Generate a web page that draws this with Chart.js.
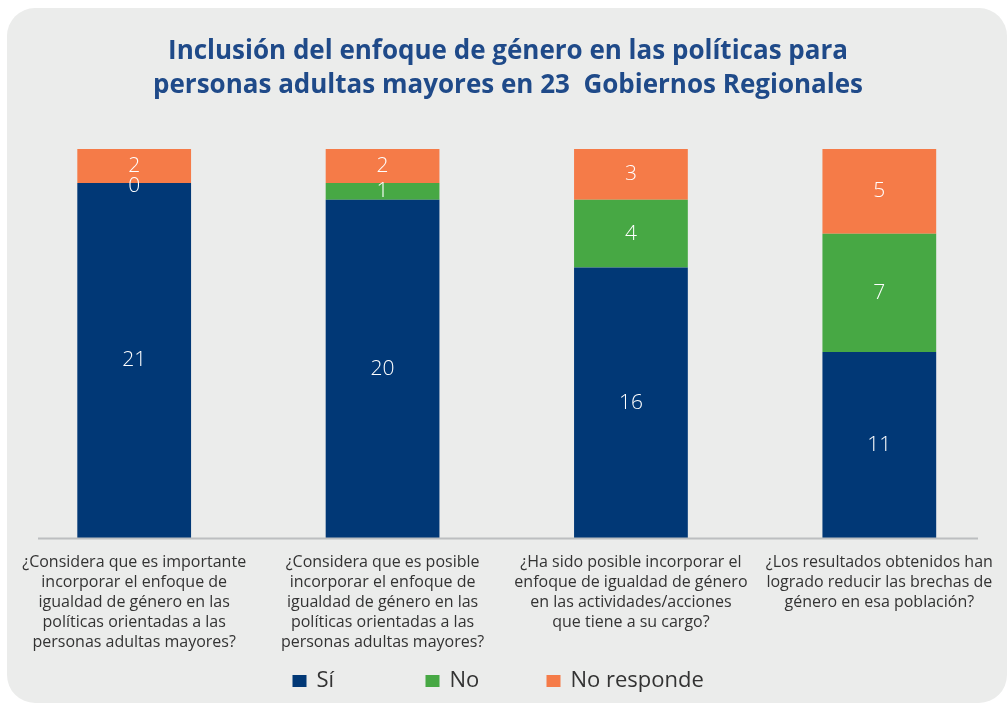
<!DOCTYPE html>
<html>
<head>
<meta charset="utf-8">
<script src="https://cdn.jsdelivr.net/npm/chart.js@4.4.0/dist/chart.umd.min.js"></script>
<style>
  html, body { margin: 0; padding: 0; background: #ffffff; }
  #wrap { width: 1007px; height: 705px; position: relative; }
</style>
</head>
<body>
<div id="wrap"><canvas id="grafico" width="1007" height="705"></canvas></div>
<script>
// Preguntas (categorías)
const preguntas = [
  ['¿Considera que es importante', 'incorporar el enfoque de', 'igualdad de género en las', 'políticas orientadas a las', 'personas adultas mayores?'],
  ['¿Considera que es posible', 'incorporar el enfoque de', 'igualdad de género en las', 'políticas orientadas a las', 'personas adultas mayores?'],
  ['¿Ha sido posible incorporar el', 'enfoque de igualdad de género', 'en las actividades/acciones', 'que tiene a su cargo?'],
  ['¿Los resultados obtenidos han', 'logrado reducir las brechas de', 'género en esa población?']
];

// Series
const si = [21, 20, 16, 11];
const no = [0, 1, 4, 7];
const noResponde = [2, 2, 3, 5];

const titulo = ['Inclusión del enfoque de género en las políticas para', 'personas adultas mayores en 23  Gobiernos Regionales'];
const nombresSeries = ['Sí', 'No', 'No responde'];
const colores = ['#013876', '#47a844', '#f57b48'];

// Fondo gris redondeado
const fondoPanel = {
  id: 'fondoPanel',
  beforeDraw(chart) {
    const ctx = chart.ctx;
    ctx.save();
    ctx.fillStyle = '#ebeceb';
    ctx.beginPath();
    ctx.roundRect(7, 8, 1000, 695, 28);
    ctx.fill();
    ctx.restore();
  }
};

// Línea del eje x (más corta que el área)
const lineaEje = {
  id: 'lineaEje',
  afterDatasetsDraw(chart) {
    const ctx = chart.ctx;
    const y = chart.scales.y.getPixelForValue(0);
    ctx.save();
    ctx.strokeStyle = '#bcbec0';
    ctx.lineWidth = 2;
    ctx.beginPath();
    ctx.moveTo(38, y + 0.5);
    ctx.lineTo(978, y + 0.5);
    ctx.stroke();
    ctx.restore();
  }
};

// Etiquetas de valores dentro de las barras
const etiquetasValores = {
  id: 'etiquetasValores',
  afterDatasetsDraw(chart) {
    const ctx = chart.ctx;
    ctx.save();
    ctx.fillStyle = '#ffffff';
    ctx.font = '300 21px "Open Sans"';
    ctx.textAlign = 'center';
    ctx.textBaseline = 'middle';
    chart.data.datasets.forEach((ds, i) => {
      const meta = chart.getDatasetMeta(i);
      meta.data.forEach((bar, j) => {
        const yc = (bar.y + bar.base) / 2;
        ctx.fillText(String(ds.data[j]), bar.x, yc + (ds.data[j] === 0 ? 3 : 0));
      });
    });
    ctx.restore();
  }
};

// Leyenda dibujada a mano
const leyenda = {
  id: 'leyenda',
  afterDraw(chart) {
    const ctx = chart.ctx;
    const cx = chart.width / 2;
    const offsets = [-211, -78, 43];
    const y = 681;
    ctx.save();
    ctx.font = '22px "Open Sans"';
    ctx.textBaseline = 'middle';
    ctx.textAlign = 'left';
    nombresSeries.forEach((n, i) => {
      const x = cx + offsets[i];
      ctx.fillStyle = colores[i];
      ctx.fillRect(x, y - 6, 14, 12);
      ctx.fillStyle = '#333333';
      ctx.fillText(n, x + 24, y);
    });
    ctx.restore();
  }
};

const ctx = document.getElementById('grafico').getContext('2d');
new Chart(ctx, {
  type: 'bar',
  data: {
    labels: preguntas,
    datasets: nombresSeries.map((n, i) => ({
      label: n,
      data: [si, no, noResponde][i],
      backgroundColor: colores[i],
      borderWidth: 0,
      barPercentage: 0.458,
      categoryPercentage: 1
    }))
  },
  options: {
    responsive: false,
    animation: false,
    layout: { padding: { top: 35, left: 10, right: 1, bottom: 39 } },
    plugins: {
      legend: { display: false },
      tooltip: { enabled: false },
      title: {
        display: true,
        text: titulo,
        color: '#1f4a89',
        font: { family: 'Open Sans', size: 26, weight: 'bold', lineHeight: 1.31 },
        padding: { top: 0, bottom: 46 }
      }
    },
    scales: {
      x: {
        stacked: true,
        grid: { display: false, drawTicks: false },
        border: { display: false },
        ticks: {
          color: '#333333',
          font: { family: 'Open Sans', size: 16, lineHeight: 1.25 },
          padding: 14,
          maxRotation: 0,
          autoSkip: false
        }
      },
      y: {
        stacked: true,
        display: false,
        min: 0,
        max: 23
      }
    }
  },
  plugins: [fondoPanel, lineaEje, etiquetasValores, leyenda]
});
</script>
</body>
</html>
